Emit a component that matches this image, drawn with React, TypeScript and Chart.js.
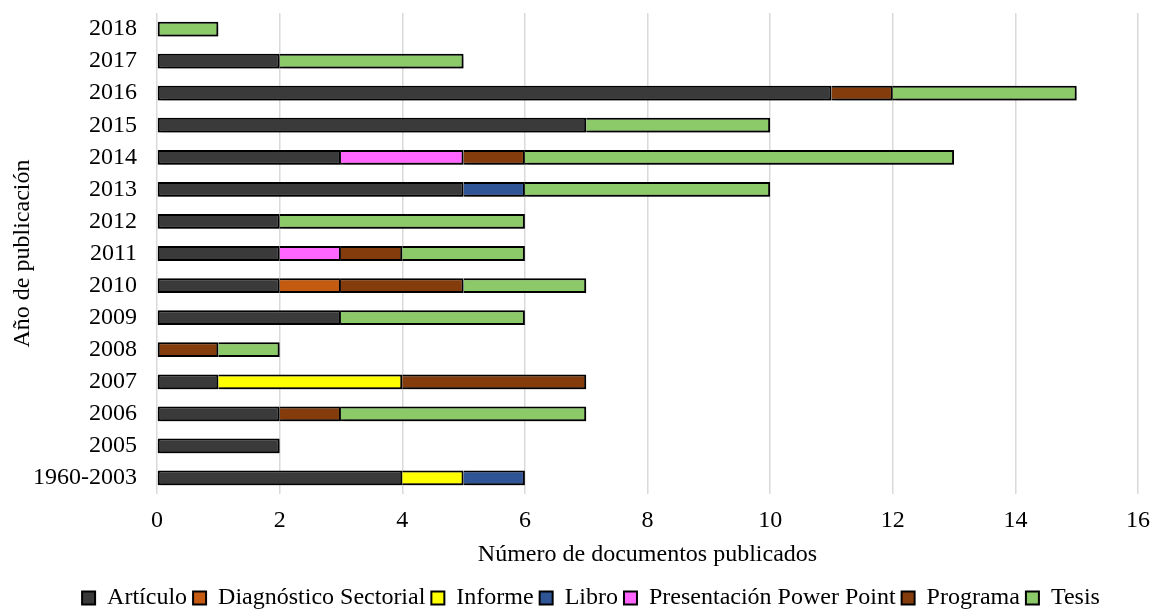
import React, { useEffect, useRef } from "react";
import { Chart, registerables } from "chart.js";

Chart.register(...registerables);

const years = ["2018", "2017", "2016", "2015", "2014", "2013", "2012", "2011", "2010", "2009", "2008", "2007", "2006", "2005", "1960-2003"];

const articulo = [null, 2, 11, 7, 3, 5, 2, 2, 2, 3, null, 1, 2, 2, 4];
const diagnostico = [null, null, null, null, null, null, null, null, 1, null, null, null, null, null, null];
const informe = [null, null, null, null, null, null, null, null, null, null, null, 3, null, null, 1];
const libro = [null, null, null, null, null, 1, null, null, null, null, null, null, null, null, 1];
const presentacion = [null, null, null, null, 2, null, null, 1, null, null, null, null, null, null, null];
const programa = [null, null, 1, null, 1, null, null, 1, 2, null, 1, 3, 1, null, null];
const tesis = [1, 3, 3, 3, 7, 4, 4, 2, 2, 3, 1, null, 4, null, null];

const xTicks = [0, 2, 4, 6, 8, 10, 12, 14, 16];

const FONT = "'Liberation Serif', 'Times New Roman', serif";
const FS = 24;

const shadowPlugin = {
  id: "barShadow",
  beforeDatasetsDraw(chart: any) {
    const ctx = chart.ctx;
    ctx.save();
    ctx.shadowColor = "rgba(0,0,0,0.45)";
    ctx.shadowBlur = 5;
    ctx.shadowOffsetX = 2;
    ctx.shadowOffsetY = 3;
  },
  afterDatasetsDraw(chart: any) {
    chart.ctx.restore();
  },
};

const legendShift = {
  id: "legendShift",
  afterLayout(chart: any) {
    const l = chart.legend;
    if (l) {
      l.left += 22;
      l.right += 22;
    }
  },
};

export default function App() {
  const ref = useRef<HTMLCanvasElement>(null);
  useEffect(() => {
    document.body.style.margin = "0";
    const series = [articulo, diagnostico, informe, libro, presentacion, programa, tesis];
    const mk = (label: string, data: any[], color: string) => ({
      label,
      data,
      backgroundColor: color,
      borderColor: "#000000",
      borderWidth: 2,
      borderSkipped: (c: any) => {
        const i = c.dataIndex;
        for (let k = 0; k < c.datasetIndex; k++) {
          if (series[k][i] != null) return "start";
        }
        return false;
      },
      barPercentage: 0.46,
      categoryPercentage: 1,
    });
    const chart = new Chart(ref.current as HTMLCanvasElement, {
      type: "bar",
      data: {
        labels: years,
        datasets: [
          mk("Artículo", articulo, "#3a3a3a"),
          mk("Diagnóstico Sectorial", diagnostico, "#c55a11"),
          mk("Informe", informe, "#ffff00"),
          mk("Libro", libro, "#2f5597"),
          mk("Presentación Power Point", presentacion, "#ff66ff"),
          mk("Programa", programa, "#843c0c"),
          mk("Tesis", tesis, "#8cc968"),
        ],
      },
      plugins: [shadowPlugin, legendShift],
      options: {
        indexAxis: "y",
        animation: false,
        responsive: false,
        maintainAspectRatio: false,
        layout: { padding: { top: 13, right: 14, left: 0, bottom: -7 } },
        plugins: {
          tooltip: { enabled: false },
          legend: {
            position: "bottom",
            labels: {
              font: { family: FONT, size: FS },
              color: "#000",
              boxWidth: 13,
              boxHeight: 13,
              padding: 6,
            },
          },
        },
        scales: {
          x: {
            stacked: true,
            min: 0,
            max: 16,
            afterBuildTicks: (scale: any) => {
              scale.ticks = xTicks.map((v) => ({ value: v }));
            },
            afterFit: (scale: any) => {
              scale.height = 86;
              scale.paddingLeft = 0;
              scale.paddingRight = 0;
            },
            grid: { color: "#d9d9d9", lineWidth: 1.5, drawTicks: false },
            border: { display: false },
            ticks: { font: { family: FONT, size: FS }, color: "#000", padding: 12 },
            title: {
              display: true,
              text: "Número de documentos publicados",
              font: { family: FONT, size: FS },
              color: "#000",
              padding: { top: 4, bottom: 11 },
            },
          },
          y: {
            stacked: true,
            afterFit: (scale: any) => {
              scale.width = 157;
              scale.paddingTop = 0;
              scale.paddingBottom = 0;
            },
            grid: { display: false, drawTicks: false },
            border: { display: false },
            ticks: { font: { family: FONT, size: FS }, color: "#000", padding: 20 },
            title: {
              display: true,
              text: "Año de publicación",
              font: { family: FONT, size: FS },
              color: "#000",
              padding: { top: 8, bottom: 0 },
            },
          },
        },
      },
    } as any);
    return () => chart.destroy();
  }, []);
  return (
    <div style={{ width: 1152, height: 613, background: "#fff" }}>
      <canvas ref={ref} width={1152} height={613} />
    </div>
  );
}
